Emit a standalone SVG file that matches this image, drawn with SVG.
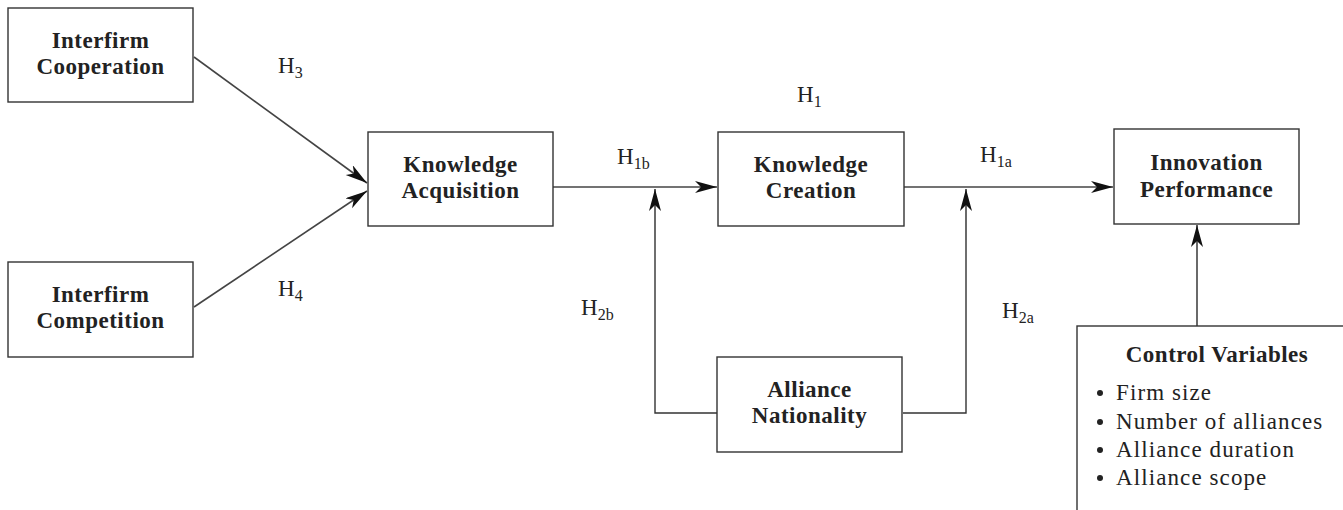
<svg xmlns="http://www.w3.org/2000/svg" width="1343" height="510" viewBox="0 0 1343 510">
<style>
.box{fill:#fff;stroke:#333;stroke-width:1.4}
.t{font-family:"Liberation Serif",serif;font-weight:bold;font-size:23px;fill:#222;text-anchor:middle;letter-spacing:0.5px}
.r{font-family:"Liberation Serif",serif;font-size:23px;fill:#222;letter-spacing:1.1px}
.h{font-family:"Liberation Serif",serif;font-size:23px;fill:#222}
.s{font-size:16px}
.c{fill:none;stroke:#333;stroke-width:1.4}
.a{fill:none;stroke:#444;stroke-width:1.6;marker-end:url(#arr)}
</style>
<defs>
<marker id="arr" markerUnits="userSpaceOnUse" markerWidth="24" markerHeight="14" refX="22" refY="6" orient="auto">
<path d="M0,0 L22,6 L0,12 L6,6 z" fill="#111"/>
</marker>
</defs>
<g id="connectors">
<line class="a" x1="194" y1="57" x2="367" y2="183"/>
<line class="a" x1="194" y1="307" x2="367" y2="191"/>
<line class="a" x1="553" y1="187" x2="717" y2="187"/>
<line class="a" x1="904" y1="187" x2="1113" y2="187"/>
<polyline class="c" points="717,413 655,413 655,240"/>
<line class="a" x1="655" y1="240" x2="655" y2="189"/>
<polyline class="c" points="903,413 966,413 966,240"/>
<line class="a" x1="966" y1="240" x2="966" y2="189"/>
<line class="a" x1="1197" y1="326" x2="1197" y2="225"/>
</g>
<g id="labels">
<text class="h" x="278" y="73">H<tspan class="s" dy="5">3</tspan></text>
<text class="h" x="278" y="296">H<tspan class="s" dy="5">4</tspan></text>
<text class="h" x="617" y="164">H<tspan class="s" dy="5">1b</tspan></text>
<text class="h" x="797" y="102">H<tspan class="s" dy="5">1</tspan></text>
<text class="h" x="980" y="162">H<tspan class="s" dy="5">1a</tspan></text>
<text class="h" x="581" y="315">H<tspan class="s" dy="5">2b</tspan></text>
<text class="h" x="1002" y="318">H<tspan class="s" dy="5">2a</tspan></text>
</g>
<g id="coop">
<rect class="box" x="8" y="8" width="185" height="94"/>
<text class="t" x="100.5" y="48">Interfirm</text>
<text class="t" x="100.5" y="74">Cooperation</text>
</g>
<g id="comp">
<rect class="box" x="8" y="262" width="185" height="95"/>
<text class="t" x="100.5" y="302">Interfirm</text>
<text class="t" x="100.5" y="328">Competition</text>
</g>
<g id="ka">
<rect class="box" x="368" y="132" width="185" height="94"/>
<text class="t" x="460.5" y="172">Knowledge</text>
<text class="t" x="460.5" y="198">Acquisition</text>
</g>
<g id="kc">
<rect class="box" x="718" y="132" width="186" height="94"/>
<text class="t" x="811" y="172">Knowledge</text>
<text class="t" x="811" y="198">Creation</text>
</g>
<g id="ip">
<rect class="box" x="1114" y="129" width="185" height="95"/>
<text class="t" x="1206.5" y="170">Innovation</text>
<text class="t" x="1206.5" y="197">Performance</text>
</g>
<g id="an">
<rect class="box" x="717" y="357" width="185" height="95"/>
<text class="t" x="809.5" y="397">Alliance</text>
<text class="t" x="809.5" y="423">Nationality</text>
</g>
<g id="cv">
<rect class="box" x="1077" y="326" width="280" height="200"/>
<text class="t" x="1217" y="362">Control Variables</text>
<g class="r">
<text x="1116" y="400">Firm size</text>
<text x="1116" y="429">Number of alliances</text>
<text x="1116" y="457">Alliance duration</text>
<text x="1116" y="485">Alliance scope</text>
</g>
<g fill="#222">
<circle cx="1100" cy="393" r="3"/>
<circle cx="1100" cy="422" r="3"/>
<circle cx="1100" cy="450" r="3"/>
<circle cx="1100" cy="478" r="3"/>
</g>
</g>
</svg>
